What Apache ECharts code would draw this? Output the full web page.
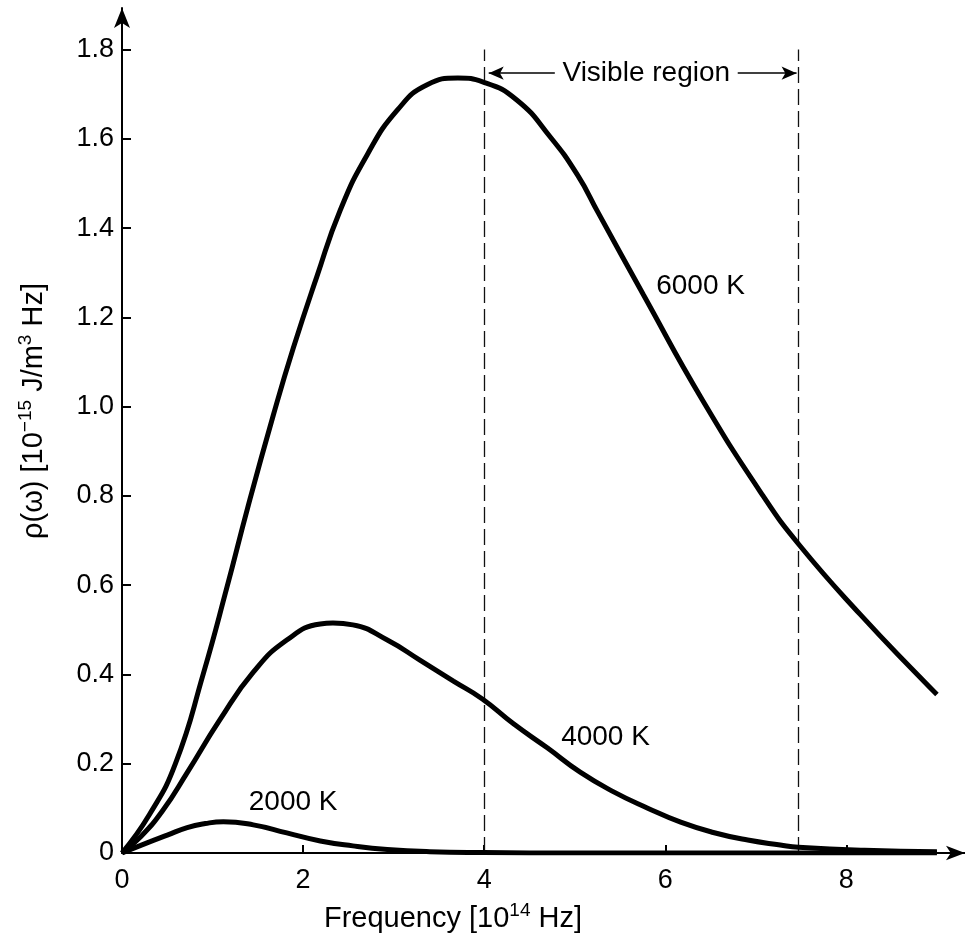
<!DOCTYPE html>
<html>
<head>
<meta charset="utf-8">
<script src="https://cdn.jsdelivr.net/npm/echarts@6/dist/echarts.min.js"></script>
<style>
html,body{margin:0;padding:0;background:#fff;}
#chart{width:965px;height:941px;}
</style>
</head>
<body>
<div id="chart"></div>
<script>
// ---- data ----
var freq6000 = [0, 0.3, 0.59, 0.9, 1.16, 1.39, 1.67, 1.89, 2.15, 2.41, 2.71, 3.04, 3.37, 3.71, 3.99, 4.36, 4.73, 5.03, 5.26, 5.76, 6.41, 7.08, 7.48, 8.15, 8.84, 9.0];
var rho6000  = [0, 0.085, 0.2, 0.403, 0.596, 0.775, 0.98, 1.13, 1.29, 1.44, 1.565, 1.664, 1.721, 1.736, 1.727, 1.687, 1.604, 1.519, 1.434, 1.250, 1.015, 0.800, 0.690, 0.535, 0.388, 0.355];

var freq4000 = [0, 0.2, 0.45, 0.72, 1.08, 1.45, 1.82, 2.19, 2.33, 2.55, 2.93, 3.29, 3.66, 3.98, 4.32, 4.70, 5.06, 5.43, 5.80, 6.17, 6.53, 6.91, 7.27, 7.47, 8.2, 9.0];
var rho4000  = [0, 0.035, 0.095, 0.18, 0.298, 0.405, 0.477, 0.513, 0.515, 0.511, 0.477, 0.432, 0.385, 0.345, 0.29, 0.235, 0.181, 0.137, 0.101, 0.069, 0.046, 0.029, 0.018, 0.013, 0.006, 0.003];

var freq2000 = [0, 0.27, 0.5, 0.72, 0.92, 1.12, 1.45, 1.82, 2.19, 2.55, 2.93, 3.4, 4.0, 5.0, 6.0, 7.0, 8.0, 9.0];
var rho2000  = [0, 0.022, 0.04, 0.057, 0.066, 0.07, 0.063, 0.045, 0.027, 0.016, 0.008, 0.003, 0.001, 0, 0, 0, 0, 0];

var xTicks = [0, 2, 4, 6, 8];
var yTicks = [0, 0.2, 0.4, 0.6, 0.8, 1.0, 1.2, 1.4, 1.6, 1.8];

var curveNames = ['6000 K', '4000 K', '2000 K'];
var curveLabelFreq = [6.39, 5.34, 1.89];
var curveLabelRho  = [1.27, 0.259, 0.113];

var visibleStart = 4.0, visibleEnd = 7.47, visibleTop = 1.8;
var visibleText = 'Visible region';
var visibleRho = 1.747;
var arrowLeft = [4.78, 4.05];   // from, to (tip)
var arrowRight = [6.80, 7.45];

// ---- chart ----
var FONT = '"Liberation Sans", Arial, Helvetica, sans-serif';
function pairs(xs, ys){ return xs.map(function(x,i){ return [x, ys[i]]; }); }

var chart = echarts.init(document.getElementById('chart'), null, {renderer:'canvas'});

var lineStyleCurve = {color:'#000', width:5};

var option = {
  animation:false,
  backgroundColor:'#fff',
  grid:{left:122, right:0, top:8, bottom:88, containLabel:false},
  xAxis:{
    type:'value', min:0, max:9.31,
    axisLine:{show:true, onZero:false, symbol:['none','arrow'], symbolSize:[11,19], lineStyle:{color:'#000', width:2}},
    axisTick:{show:true, inside:true, length:8, customValues:xTicks, lineStyle:{color:'#000', width:2}},
    axisLabel:{show:true, customValues:xTicks, margin:14, color:'#000', fontSize:27, fontFamily:FONT,
      formatter:function(v){ return String(Math.round(v)); }},
    splitLine:{show:false}
  },
  yAxis:{
    type:'value', min:0, max:1.893,
    axisLine:{show:true, onZero:false, symbol:['none','arrow'], symbolSize:[12,20], lineStyle:{color:'#000', width:2}},
    axisTick:{show:true, inside:true, length:9, customValues:yTicks, lineStyle:{color:'#000', width:2}},
    axisLabel:{show:true, customValues:yTicks, margin:8, color:'#000', fontSize:27, fontFamily:FONT,
      formatter:function(v){ return Math.abs(v) < 1e-9 ? '0' : v.toFixed(1); }},
    splitLine:{show:false}
  },
  series:[
    {
      type:'line', name:curveNames[0], data:pairs(freq6000, rho6000),
      showSymbol:false, symbol:'none', smooth:0.5,
      lineStyle:lineStyleCurve, z:5,
      markLine:{
        silent:true, symbol:['none','none'], label:{show:false},
        lineStyle:{color:'#111', width:1.3, type:[16,6]},
        data:[
          [{coord:[visibleStart,0]},{coord:[visibleStart,visibleTop]}],
          [{coord:[visibleEnd,0]},{coord:[visibleEnd,visibleTop]}]
        ]
      }
    },
    {
      type:'line', name:curveNames[1], data:pairs(freq4000, rho4000),
      showSymbol:false, symbol:'none', smooth:0.5,
      lineStyle:lineStyleCurve, z:5,
      markLine:{
        silent:true, symbol:['none','arrow'], symbolSize:[10,15], label:{show:false},
        lineStyle:{color:'#000', width:1.5, type:'solid'},
        data:[
          [{coord:[arrowLeft[0],visibleRho]},{coord:[arrowLeft[1],visibleRho]}],
          [{coord:[arrowRight[0],visibleRho]},{coord:[arrowRight[1],visibleRho]}]
        ]
      }
    },
    {
      type:'line', name:curveNames[2], data:pairs(freq2000, rho2000),
      showSymbol:false, symbol:'none', smooth:0.5,
      lineStyle:lineStyleCurve, z:5
    },
    {
      type:'scatter', symbolSize:0, silent:true, z:10,
      data:curveNames.map(function(n,i){ return {value:[curveLabelFreq[i], curveLabelRho[i]], name:n}; })
        .concat([{value:[(arrowLeft[0]+arrowRight[0])/2, visibleRho], name:visibleText}]),
      label:{show:true, position:'inside', formatter:'{b}', color:'#000', opacity:1,
        textBorderWidth:0, textBorderColor:'transparent', fontSize:28, fontFamily:FONT}
    }
  ],
  graphic:[
    {
      type:'text', x:453, y:917, silent:true,
      style:{
        text:'{n|Frequency [10}{s|14}{n| Hz]}',
        align:'center', verticalAlign:'middle',
        rich:{
          n:{fontSize:29, fontFamily:FONT, fill:'#000', lineHeight:32, verticalAlign:'bottom'},
          s:{fontSize:19, fontFamily:FONT, fill:'#000', lineHeight:32, verticalAlign:'top'}
        }
      }
    },
    {
      type:'text', x:32, y:411, rotation:Math.PI/2, silent:true,
      style:{
        text:'{n|\u03C1(\u03C9) [10}{s|\u221215}{n| J/m}{s|3}{n| Hz]}',
        align:'center', verticalAlign:'middle',
        rich:{
          n:{fontSize:29, fontFamily:FONT, fill:'#000', lineHeight:32, verticalAlign:'bottom'},
          s:{fontSize:19, fontFamily:FONT, fill:'#000', lineHeight:32, verticalAlign:'top'}
        }
      }
    }
  ]
};
chart.setOption(option);
</script>
</body>
</html>
